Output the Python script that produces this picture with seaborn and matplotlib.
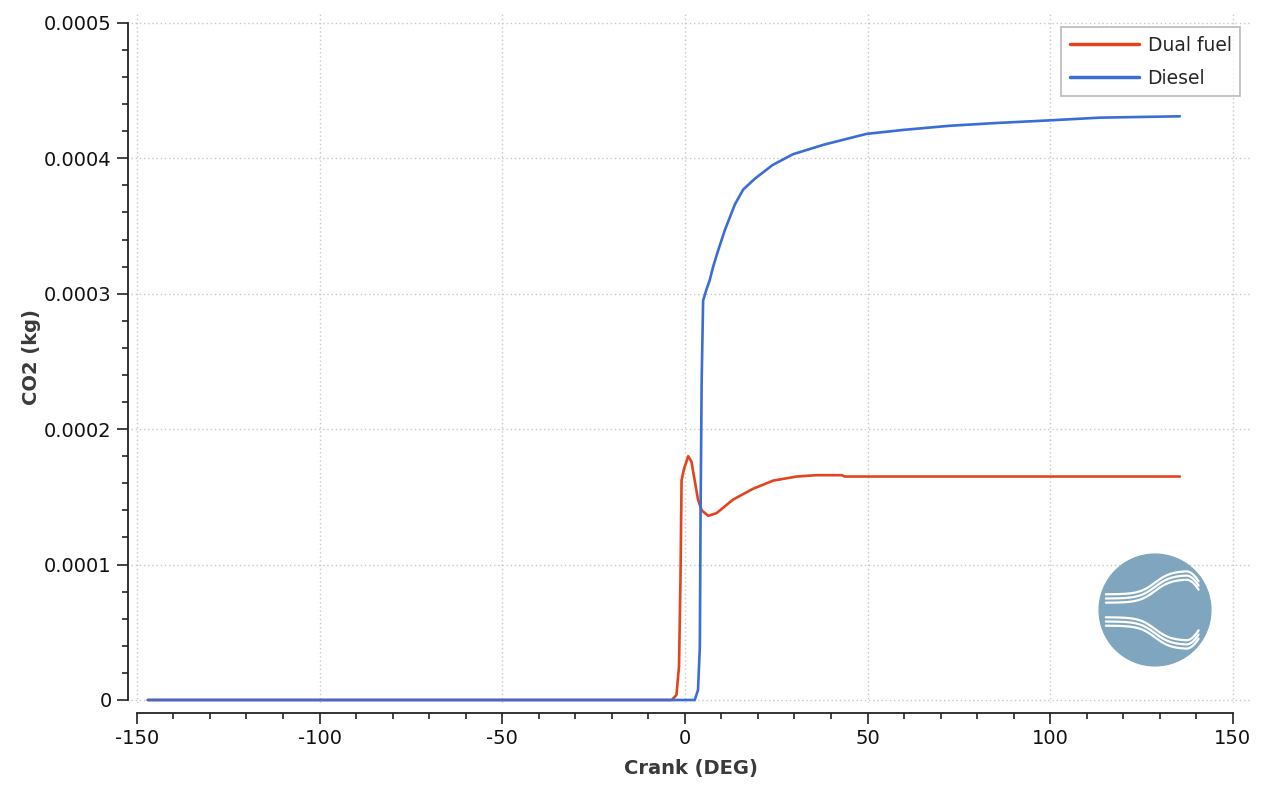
import numpy as np
import pandas as pd
import matplotlib
matplotlib.use("Agg")
import matplotlib.pyplot as plt
from matplotlib.ticker import MultipleLocator, FuncFormatter
from matplotlib.patches import Circle
import seaborn as sns

# ---------------------------------------------------------------
# Data (crank angle in deg, CO2 mass in kg)
# ---------------------------------------------------------------
dual_crank = [-147, -4.0, -3.6, -2.3, -1.6, -1.2, -0.9, -0.3, 0.9, 1.8, 2.7,
              3.6, 4.6, 6.4, 8.7, 13.2, 18.7, 24.2, 30.6, 36.1, 42.9, 43.8, 135.5]
dual_co2 = [0, 0, 0, 3.7e-6, 2.5e-5, 8.9e-5, 1.62e-4, 1.70e-4, 1.80e-4, 1.76e-4,
            1.62e-4, 1.48e-4, 1.40e-4, 1.36e-4, 1.38e-4, 1.48e-4, 1.56e-4,
            1.62e-4, 1.65e-4, 1.66e-4, 1.66e-4, 1.65e-4, 1.65e-4]

diesel_crank = [-147, 2.7, 3.6, 4.1, 4.3, 4.6, 5.0, 5.9, 6.8, 7.75, 9.0, 10.95,
                13.7, 16.0, 19.2, 24.0, 29.6, 38.0, 49.7, 60.0, 72.5, 85.0,
                99.9, 113.6, 135.5]
diesel_co2 = [0, 0, 7.4e-6, 3.9e-5, 1.38e-4, 2.36e-4, 2.95e-4, 3.03e-4, 3.10e-4,
              3.20e-4, 3.31e-4, 3.47e-4, 3.66e-4, 3.77e-4, 3.85e-4, 3.95e-4,
              4.03e-4, 4.10e-4, 4.18e-4, 4.21e-4, 4.24e-4, 4.26e-4, 4.28e-4,
              4.30e-4, 4.31e-4]

series_names = ["Dual fuel", "Diesel"]
series_colors = {"Dual fuel": "#e2441d", "Diesel": "#3a6dd6"}

df = pd.concat([
    pd.DataFrame({"Crank": dual_crank, "CO2": dual_co2, "Serie": series_names[0]}),
    pd.DataFrame({"Crank": diesel_crank, "CO2": diesel_co2, "Serie": series_names[1]}),
])

# ---------------------------------------------------------------
# Figure
# ---------------------------------------------------------------
sns.set_theme(style="ticks")
plt.rcParams["font.family"] = ["DejaVu Sans"]
plt.rcParams["axes.unicode_minus"] = False

fig = plt.figure(figsize=(12.61, 7.85), dpi=100)
ax = fig.add_axes([0.1039, 0.1045, 0.8874, 0.8802])

sns.lineplot(data=df, x="Crank", y="CO2", hue="Serie", palette=series_colors,
             sort=False, linewidth=1.9, ax=ax, legend=True)

ax.set_xlim(-151.6, 154.7)
ax.set_ylim(-2.2e-6, 0.000508)
ax.xaxis.set_major_locator(MultipleLocator(50))
ax.xaxis.set_minor_locator(MultipleLocator(10))
ax.yaxis.set_major_locator(MultipleLocator(0.0001))
ax.yaxis.set_minor_locator(MultipleLocator(0.00002))
ax.yaxis.set_major_formatter(FuncFormatter(lambda v, p: "0" if abs(v) < 1e-12 else f"{v:.4f}"))

ax.grid(True, which="major", color="#c8c8c8", linestyle=(0, (1, 2)), linewidth=1.0)
ax.tick_params(which="major", direction="out", length=8, width=1.2, labelsize=14,
               color="#222222", labelcolor="#111111")
ax.tick_params(which="minor", direction="out", length=4.5, width=1.2, color="#222222")

sns.despine(ax=ax, offset={"left": 2.5, "bottom": 7}, trim=True)
for side in ["left", "bottom"]:
    ax.spines[side].set_linewidth(1.3)
    ax.spines[side].set_color("#222222")

ax.set_xlabel("Crank (DEG)", fontsize=14, fontweight="bold", color="#3a3a3a", labelpad=8)
ax.set_ylabel("CO2 (kg)", fontsize=14, fontweight="bold", color="#3a3a3a", labelpad=2)

leg = ax.legend(loc="upper right", bbox_to_anchor=(0.991, 0.978), borderaxespad=0,
                fontsize=13.5, frameon=True, fancybox=False, handlelength=3.7,
                borderpad=0.45, labelspacing=0.75, handletextpad=0.45)
leg.get_frame().set_edgecolor("#a8a8a8")
leg.get_frame().set_linewidth(1.2)
for line in leg.get_lines():
    line.set_linewidth(2.5)

# decorative logo (bottom right)
logo = fig.add_axes([1098 / 1261, 1 - 667 / 785, 114 / 1261, 114 / 785])
logo.set_xlim(-1.02, 1.02)
logo.set_ylim(-1.02, 1.02)
logo.set_aspect("equal")
logo.axis("off")
logo.add_patch(Circle((0, 0), 1.0, color="#80a6bf"))
t = np.linspace(-0.88, 0.78, 150)
s = 1 / (1 + np.exp(-t * 7))
hook = np.clip(t - 0.55, 0, None) ** 2 * 3.5
for k in range(3):
    off = k * 0.075
    logo.plot(t, 0.13 + off + 0.42 * s - hook, color="white", lw=1.6, solid_capstyle="round")
    logo.plot(t, -0.13 - off - 0.42 * s + hook, color="white", lw=1.6, solid_capstyle="round")

fig.savefig("out.png", dpi=100)
